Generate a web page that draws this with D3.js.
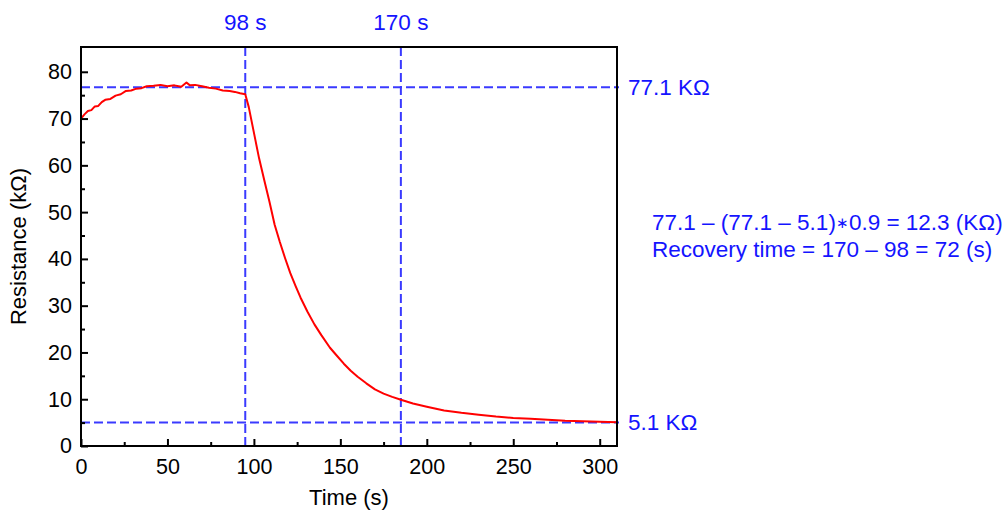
<!DOCTYPE html>
<html>
<head>
<meta charset="utf-8">
<script src="https://cdn.jsdelivr.net/npm/d3@7"></script>
<style>
  body { margin: 0; background: #fff; }
  text { font-family: "Liberation Sans", Arial, sans-serif; }
</style>
</head>
<body>
<svg id="chart" width="1007" height="513"></svg>
<script>
// data
var timeS = [0, 2, 4, 6, 8, 10, 12, 14, 17, 20, 23, 26, 29, 32, 35, 38, 42, 46, 50, 54, 58, 61, 63, 66, 70, 74, 78, 82, 86, 89, 92, 95,
  97, 100, 103, 106, 109, 112, 115, 118, 121, 124, 127, 131, 135, 139, 144, 148, 152, 156, 160, 165, 170, 175, 180, 185,
  192, 200, 210, 220, 230, 240, 250, 260, 270, 280, 290, 300, 310];
var resistance = [70.0, 70.9, 71.6, 71.8, 72.6, 72.7, 73.5, 74.0, 74.2, 74.9, 75.2, 75.9, 76.0, 76.4, 76.5, 76.9, 77.0, 77.2, 76.9, 77.1, 76.8, 77.7, 77.1, 77.2, 76.9, 76.6, 76.4, 76.0, 75.9, 75.7, 75.4, 75.2,
  72.5, 67.0, 61.5, 56.8, 52.2, 47.3, 43.6, 40.2, 37.0, 34.3, 31.7, 28.7, 26.0, 23.7, 21.0, 19.3, 17.6, 16.1, 14.8, 13.4, 12.1, 11.2, 10.5, 9.9,
  9.1, 8.4, 7.6, 7.1, 6.7, 6.3, 6.0, 5.8, 5.6, 5.4, 5.3, 5.2, 5.1];
var xTicks = [0, 50, 100, 150, 200, 250, 300];
var xMinor = [25, 75, 125, 175, 225, 275];
var yTicks = [0, 10, 20, 30, 40, 50, 60, 70, 80];
var yMinor = [5, 15, 25, 35, 45, 55, 65, 75];
var markTimes = [95, 185];
var markTimeLabels = ["98 s", "170 s"];
var markLevels = [76.7, 5.0];
var markLevelLabels = ["77.1 K\u03A9", "5.1 K\u03A9"];
// note text, split around the small multiplication star
var noteLine1 = ["77.1 \u2013 (77.1 \u2013 5.1)", "0.9 = 12.3 (K\u03A9)"];
var noteLine2 = "Recovery time = 170 \u2013 98 = 72 (s)";

var margin = {top: 47, left: 81},
    width = 536,
    height = 399;

var svg = d3.select("#chart");
var g = svg.append("g")
  .attr("transform", "translate(" + margin.left + "," + margin.top + ")");

var x = d3.scaleLinear().domain([0, 310]).range([0, width]);
var y = d3.scaleLinear().domain([0, 85.3]).range([height, 0]);

var blue = "#3a3aff", textBlue = "#1414ff";
var labelSize = "22.5px";

// dashed guide lines
g.selectAll(".vmark")
  .data(markTimes)
  .enter().append("line")
  .attr("x1", function(d) { return x(d); })
  .attr("x2", function(d) { return x(d); })
  .attr("y1", 0).attr("y2", height)
  .attr("stroke", blue).attr("stroke-width", 2)
  .attr("stroke-dasharray", "9,4");

g.selectAll(".hmark")
  .data(markLevels)
  .enter().append("line")
  .attr("x1", 0).attr("x2", width + 2)
  .attr("y1", function(d) { return y(d); })
  .attr("y2", function(d) { return y(d); })
  .attr("stroke", blue).attr("stroke-width", 2)
  .attr("stroke-dasharray", "9,4");

// the curve
var pts = timeS.map(function(t, i) { return [t, resistance[i]]; });
g.append("path")
  .datum(pts)
  .attr("fill", "none")
  .attr("stroke", "#ff0000")
  .attr("stroke-width", 2)
  .attr("stroke-linejoin", "round")
  .attr("d", d3.line()
    .x(function(d) { return x(d[0]); })
    .y(function(d) { return y(d[1]); }));

// axes (ticks pointing inward)
g.append("g")
  .attr("transform", "translate(0," + height + ")")
  .call(d3.axisBottom(x).tickValues(xTicks).tickSize(-7).tickPadding(13).tickFormat(d3.format("d")));
g.append("g")
  .attr("transform", "translate(0," + height + ")")
  .call(d3.axisBottom(x).tickValues(xMinor).tickSize(-4).tickFormat(""));

g.append("g")
  .call(d3.axisLeft(y).tickValues(yTicks).tickSize(-7).tickPadding(9).tickFormat(d3.format("d")));
g.append("g")
  .call(d3.axisLeft(y).tickValues(yMinor).tickSize(-4).tickFormat(""));

g.selectAll(".domain").remove();
g.selectAll(".tick line").attr("stroke", "#000").attr("stroke-width", 2);
g.selectAll(".tick text")
  .attr("fill", "#000")
  .style("font-size", "21.5px")
  .style("font-family", "'Liberation Sans', Arial, sans-serif");

// frame
g.append("rect")
  .attr("width", width).attr("height", height)
  .attr("fill", "none").attr("stroke", "#000").attr("stroke-width", 2);

// axis titles
svg.append("text")
  .attr("x", margin.left + x(155)).attr("y", 505)
  .attr("text-anchor", "middle")
  .style("font-size", "22px")
  .text("Time (s)");

svg.append("text")
  .attr("transform", "translate(26," + (margin.top + height / 2) + ") rotate(-90)")
  .attr("text-anchor", "middle")
  .style("font-size", "22px")
  .text("Resistance (k\u03A9)");

// blue labels
svg.selectAll(".tlabel")
  .data(markTimes)
  .enter().append("text")
  .attr("x", function(d) { return margin.left + x(d); })
  .attr("y", 30)
  .attr("text-anchor", "middle")
  .attr("fill", textBlue)
  .style("font-size", labelSize)
  .text(function(d, i) { return markTimeLabels[i]; });

svg.selectAll(".llabel")
  .data(markLevels)
  .enter().append("text")
  .attr("x", margin.left + width + 11)
  .attr("y", function(d) { return margin.top + y(d); })
  .attr("dy", "0.35em")
  .attr("fill", textBlue)
  .style("font-size", labelSize)
  .text(function(d, i) { return markLevelLabels[i]; });

var note1 = svg.append("text")
  .attr("x", 652).attr("y", 230)
  .attr("fill", textBlue)
  .style("font-size", labelSize);
note1.append("tspan").text(noteLine1[0]);
note1.append("tspan").attr("dy", "-2").style("font-size", "15px").text("\u2217");
note1.append("tspan").attr("dy", "2").text(noteLine1[1]);

svg.append("text")
  .attr("x", 652).attr("y", 257)
  .attr("fill", textBlue)
  .style("font-size", labelSize)
  .text(noteLine2);
</script>
</body>
</html>
